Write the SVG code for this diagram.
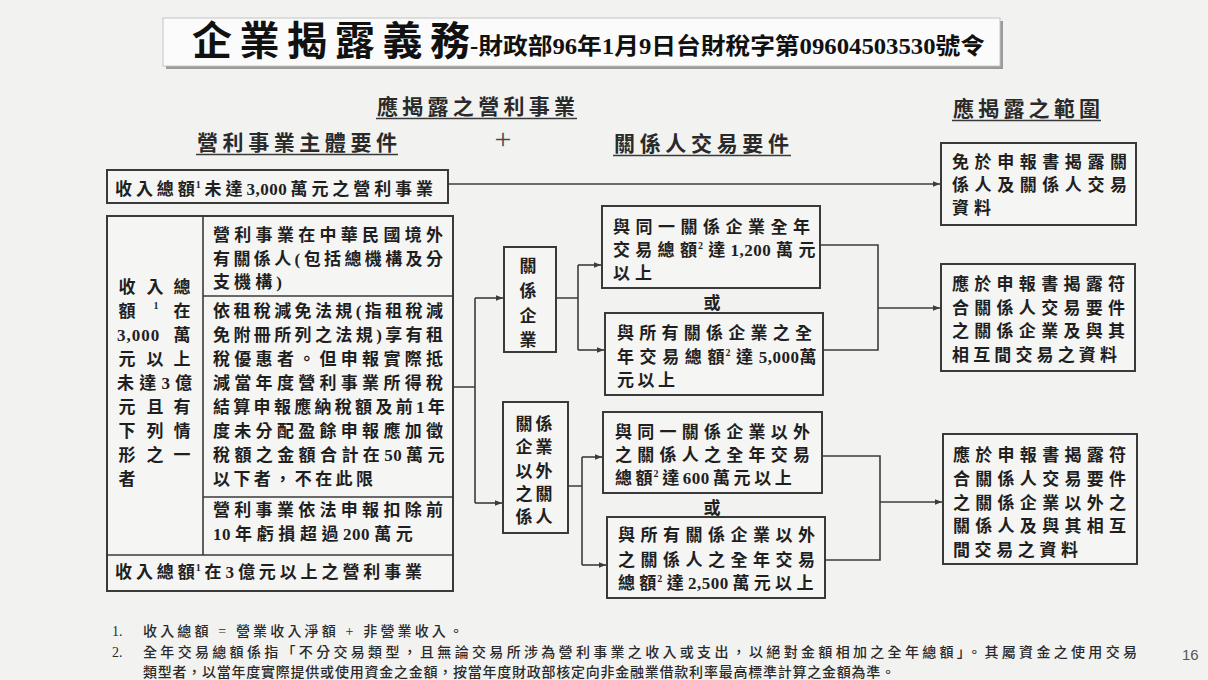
<svg xmlns="http://www.w3.org/2000/svg" width="1208" height="680" viewBox="0 0 1208 680">
<defs>
<style>
.b{font-family:"Liberation Serif","Noto Sans CJK TC",serif;font-weight:700;font-size:17px;fill:#1f1f1f}
.h{font-family:"Liberation Serif","Noto Sans CJK TC",serif;font-weight:700;font-size:21px;fill:#2a2a2a}
.c{text-anchor:middle}
.sup{font-size:10px}
.d{letter-spacing:0.5px}
.t{letter-spacing:1px}
.box{fill:#f5f5f4;stroke:#3a3a3a;stroke-width:2}
.in{stroke:#3a3a3a;stroke-width:1.6;fill:none}
.ul{stroke:#3a3a3a;stroke-width:1.6}
.cn{fill:none;stroke:#3c3c3c;stroke-width:1.6}
.fn{font-family:"Liberation Serif","Noto Sans CJK TC",serif;font-weight:500;font-size:14px;fill:#2a2a2a}
</style>
<marker id="ah" viewBox="0 0 10 10" refX="10" refY="5" markerWidth="8" markerHeight="7" markerUnits="userSpaceOnUse" orient="auto">
<path d="M0,1 L10,5 L0,9 z" fill="#3c3c3c"/>
</marker>
</defs>
<rect x="0" y="0" width="1208" height="680" fill="#f2f2f1"/>

<g id="title">
<rect x="166" y="21" width="837" height="48" fill="#9a9a9a"/>
<rect x="163" y="18" width="837" height="48" fill="#fbfbfb" stroke="#c4c4c4" stroke-width="1"/>
<text x="192" y="55" style="font-family:'Liberation Serif','Noto Sans CJK TC',serif;font-weight:700;font-size:40px;fill:#111" textLength="278" lengthAdjust="spacing">企業揭露義務</text>
<text x="470" y="54" style="font-family:'Liberation Serif','Noto Sans CJK TC',serif;font-weight:700;font-size:23px;fill:#111" textLength="515" lengthAdjust="spacingAndGlyphs">-財政部96年1月9日台財稅字第09604503530號令</text>
</g>

<g id="headers">
<text class="h" x="377" y="114" textLength="198" lengthAdjust="spacing">應揭露之營利事業</text>
<line class="ul" x1="376" y1="118.5" x2="577" y2="118.5"/>
<text class="h" x="197" y="150" textLength="200" lengthAdjust="spacing">營利事業主體要件</text>
<line class="ul" x1="196" y1="154.5" x2="398" y2="154.5"/>
<text x="503" y="149" class="c" style="font-family:'Liberation Serif',serif;font-size:30px;fill:#4a4a4a">+</text>
<text class="h" x="614" y="151" textLength="175" lengthAdjust="spacing">關係人交易要件</text>
<line class="ul" x1="613" y1="155.5" x2="791" y2="155.5"/>
<text class="h" x="953" y="116" textLength="147" lengthAdjust="spacing">應揭露之範圍</text>
<line class="ul" x1="952" y1="120.5" x2="1101" y2="120.5"/>
</g>

<g id="connectors">
<path class="cn" d="M448,184 H940" marker-end="url(#ah)"/>
<path class="cn" d="M453,387 H475 M475,298 V503"/>
<path class="cn" d="M475,298 H503" marker-end="url(#ah)"/>
<path class="cn" d="M475,503 H502" marker-end="url(#ah)"/>
<path class="cn" d="M557,298 H578 M578,265 V350"/>
<path class="cn" d="M578,265 H601" marker-end="url(#ah)"/>
<path class="cn" d="M578,350 H604" marker-end="url(#ah)"/>
<path class="cn" d="M569,486 H582 M582,457 V565"/>
<path class="cn" d="M582,457 H602" marker-end="url(#ah)"/>
<path class="cn" d="M582,565 H606" marker-end="url(#ah)"/>
<path class="cn" d="M821,245 H878 V350 H824"/>
<path class="cn" d="M878,308 H940" marker-end="url(#ah)"/>
<path class="cn" d="M823,456 H880 V560 H826"/>
<path class="cn" d="M880,502 H942" marker-end="url(#ah)"/>
</g>

<g id="small-revenue">
<rect class="box" x="107" y="170" width="341" height="33"/>
<text class="b" x="115" y="195" style="letter-spacing:3.9px">收入總<tspan class="t">額</tspan><tspan class="sup" dy="-7">1</tspan><tspan dy="7">未達</tspan><tspan class="d">3,00</tspan>0萬元之營利事業</text>
</g>

<g id="mid-revenue-table">
<rect class="box" x="107" y="216" width="346" height="375"/>
<line class="in" x1="203" y1="216" x2="203" y2="555"/>
<line class="in" x1="203" y1="296" x2="453" y2="296"/>
<line class="in" x1="203" y1="497" x2="453" y2="497"/>
<line class="in" x1="107" y1="555" x2="453" y2="555"/>
<text class="b c" x="127" y="293">收</text><text class="b c" x="155" y="293">入</text><text class="b c" x="182" y="293">總</text>
<text class="b c" x="127" y="317">額</text><text class="b c sup" x="156" y="309">1</text><text class="b c" x="182" y="317">在</text>
<text class="b" x="117" y="341" style="letter-spacing:1px">3,000</text><text class="b c" x="182" y="341">萬</text>
<text class="b c" x="127" y="365">元</text><text class="b c" x="155" y="365">以</text><text class="b c" x="182" y="365">上</text>
<text class="b" x="117" y="389" style="letter-spacing:5.2px">未達3億</text>
<text class="b c" x="127" y="413">元</text><text class="b c" x="155" y="413">且</text><text class="b c" x="182" y="413">有</text>
<text class="b c" x="127" y="437">下</text><text class="b c" x="155" y="437">列</text><text class="b c" x="182" y="437">情</text>
<text class="b c" x="127" y="461">形</text><text class="b c" x="155" y="461">之</text><text class="b c" x="182" y="461">一</text>
<text class="b c" x="127" y="485">者</text>
<text class="b" x="213" y="241" textLength="230" lengthAdjust="spacing">營利事業在中華民國境外</text>
<text class="b" x="213" y="264.5" textLength="230" lengthAdjust="spacing">有關係人(包括總機構及分</text>
<text class="b" x="213" y="288" textLength="69" lengthAdjust="spacing">支機構)</text>
<text class="b" x="213" y="317" textLength="230" lengthAdjust="spacing">依租稅減免法規(指租稅減</text>
<text class="b" x="213" y="341" textLength="230" lengthAdjust="spacing">免附冊所列之法規)享有租</text>
<text class="b" x="213" y="365" textLength="230" lengthAdjust="spacing">稅優惠者。但申報實際抵</text>
<text class="b" x="213" y="389" textLength="230" lengthAdjust="spacing">減當年度營利事業所得稅</text>
<text class="b" x="213" y="413" style="letter-spacing:3.3px">結算申報應納稅額及前1年</text>
<text class="b" x="213" y="437" textLength="230" lengthAdjust="spacing">度未分配盈餘申報應加徵</text>
<text class="b" x="213" y="461" style="letter-spacing:4.4px">稅額之金額合計在<tspan class="d">5</tspan>0萬元</text>
<text class="b" x="213" y="485" textLength="160" lengthAdjust="spacing">以下者，不在此限</text>
<text class="b" x="213" y="516" textLength="230" lengthAdjust="spacing">營利事業依法申報扣除前</text>
<text class="b" x="213" y="540" style="letter-spacing:4.6px"><tspan class="d">1</tspan>0年虧損超過<tspan class="d">20</tspan>0萬元</text>
</g>

<g id="large-revenue">
<text class="b" x="115" y="578" style="letter-spacing:3.9px">收入總<tspan class="t">額</tspan><tspan class="sup" dy="-7">1</tspan><tspan dy="7">在3億元以上之營利事業</tspan></text>
</g>

<g id="related-enterprise">
<rect class="box" x="504" y="247" width="52" height="105"/>
<text class="b c" x="528" y="272">關</text>
<text class="b c" x="528" y="297">係</text>
<text class="b c" x="528" y="322">企</text>
<text class="b c" x="528" y="346">業</text>
</g>

<g id="other-related-party">
<rect class="box" x="503" y="402" width="65" height="131"/>
<text class="b c" x="524" y="430">關</text><text class="b c" x="544" y="430">係</text>
<text class="b c" x="524" y="453">企</text><text class="b c" x="544" y="453">業</text>
<text class="b c" x="524" y="477">以</text><text class="b c" x="544" y="477">外</text>
<text class="b c" x="524" y="500">之</text><text class="b c" x="544" y="500">關</text>
<text class="b c" x="524" y="523">係</text><text class="b c" x="544" y="523">人</text>
</g>

<g id="a1">
<rect class="box" x="602" y="206" width="218" height="82"/>
<text class="b" x="613" y="233" textLength="197" lengthAdjust="spacing">與同一關係企業全年</text>
<text class="b" x="613" y="256" style="letter-spacing:5.3px">交易總<tspan class="t">額</tspan><tspan class="sup" dy="-7">2</tspan><tspan dy="7">達</tspan><tspan class="d">1,20</tspan>0萬元</text>
<text class="b" x="613" y="279" textLength="39" lengthAdjust="spacing">以上</text>
</g>
<g id="or1"><text class="b c" x="712" y="309">或</text></g>
<g id="a2">
<rect class="box" x="605" y="313" width="218" height="82"/>
<text class="b" x="617" y="339" textLength="195" lengthAdjust="spacing">與所有關係企業之全</text>
<text class="b" x="617" y="363" style="letter-spacing:5.6px">年交易總<tspan class="t">額</tspan><tspan class="sup" dy="-7">2</tspan><tspan dy="7">達</tspan><tspan class="d">5,000</tspan>萬</text>
<text class="b" x="617" y="386" textLength="58" lengthAdjust="spacing">元以上</text>
</g>

<g id="b1">
<rect class="box" x="603" y="412" width="219" height="81"/>
<text class="b" x="615" y="438" textLength="195" lengthAdjust="spacing">與同一關係企業以外</text>
<text class="b" x="615" y="461" textLength="195" lengthAdjust="spacing">之關係人之全年交易</text>
<text class="b" x="615" y="484" style="letter-spacing:3.6px">總<tspan class="t">額</tspan><tspan class="sup" dy="-7">2</tspan><tspan dy="7">達</tspan><tspan class="d">60</tspan>0萬元以上</text>
</g>
<g id="or2"><text class="b c" x="712" y="514">或</text></g>
<g id="b2">
<rect class="box" x="607" y="517" width="218" height="81"/>
<text class="b" x="618" y="541" textLength="197" lengthAdjust="spacing">與所有關係企業以外</text>
<text class="b" x="618" y="566" textLength="197" lengthAdjust="spacing">之關係人之全年交易</text>
<text class="b" x="618" y="589" style="letter-spacing:4.3px">總<tspan class="t">額</tspan><tspan class="sup" dy="-7">2</tspan><tspan dy="7">達</tspan><tspan class="d">2,50</tspan>0萬元以上</text>
</g>

<g id="r1">
<rect class="box" x="941" y="143" width="195" height="82"/>
<text class="b" x="952" y="168" textLength="175" lengthAdjust="spacing">免於申報書揭露關</text>
<text class="b" x="952" y="191" textLength="175" lengthAdjust="spacing">係人及關係人交易</text>
<text class="b" x="952" y="214" textLength="39" lengthAdjust="spacing">資料</text>
</g>
<g id="r2">
<rect class="box" x="941" y="264" width="194" height="107"/>
<text class="b" x="952" y="290" textLength="173" lengthAdjust="spacing">應於申報書揭露符</text>
<text class="b" x="952" y="314" textLength="173" lengthAdjust="spacing">合關係人交易要件</text>
<text class="b" x="952" y="337" textLength="173" lengthAdjust="spacing">之關係企業及與其</text>
<text class="b" x="952" y="361" textLength="165" lengthAdjust="spacing">相互間交易之資料</text>
</g>
<g id="r3">
<rect class="box" x="943" y="434" width="194" height="130"/>
<text class="b" x="953" y="461" textLength="173" lengthAdjust="spacing">應於申報書揭露符</text>
<text class="b" x="953" y="485" textLength="173" lengthAdjust="spacing">合關係人交易要件</text>
<text class="b" x="953" y="509" textLength="173" lengthAdjust="spacing">之關係企業以外之</text>
<text class="b" x="953" y="532" textLength="173" lengthAdjust="spacing">關係人及與其相互</text>
<text class="b" x="953" y="556" textLength="125" lengthAdjust="spacing">間交易之資料</text>
</g>

<g id="notes">
<text class="fn" x="112" y="636">1.</text>
<text class="fn" x="143" y="636" textLength="320" lengthAdjust="spacing">收入總額 = 營業收入淨額 + 非營業收入。</text>
<text class="fn" x="112" y="657">2.</text>
<text class="fn" x="143" y="657" textLength="994" lengthAdjust="spacing">全年交易總額係指「不分交易類型，且無論交易所涉為營利事業之收入或支出，以絕對金額相加之全年總額」。其屬資金之使用交易</text>
<text class="fn" x="143" y="677" textLength="752" lengthAdjust="spacing">類型者，以當年度實際提供或使用資金之金額，按當年度財政部核定向非金融業借款利率最高標準計算之金額為準。</text>
</g>
<g id="page-number">
<text x="1182" y="660" style="font-family:'Liberation Sans',sans-serif;font-size:15px;fill:#555">16</text>
</g>
</svg>
